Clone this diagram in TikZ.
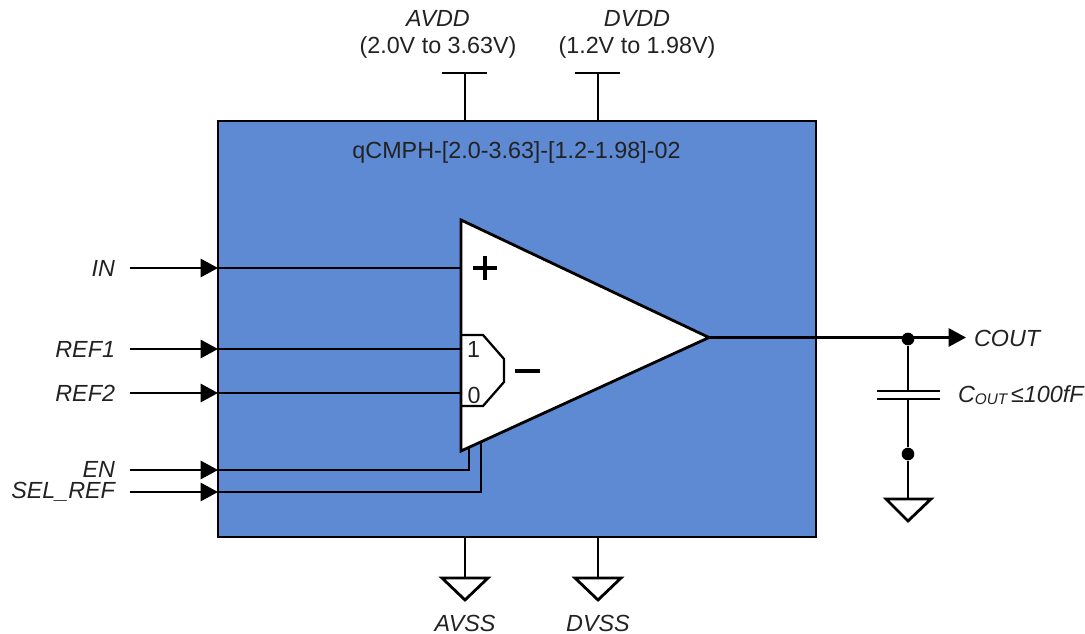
\documentclass[tikz,border=0pt]{standalone}
\usepackage{fontspec}
\setmainfont{Liberation Sans}
\usetikzlibrary{arrows.meta}
\definecolor{chipblue}{HTML}{5E8AD4}
\definecolor{inkc}{HTML}{222222}
\tikzset{
  x=0.75pt,y=-0.75pt,
  wire/.style={draw=black,line width=2.1pt,line join=miter},
  arrowwire/.style={wire,-{Triangle[length=13pt,width=13.5pt]}},
  lab/.style={inner sep=0pt,outer sep=0pt,text=inkc,font=\fontsize{17.5}{21}\selectfont},
  ilab/.style={lab,font=\fontsize{17.5}{21}\selectfont\itshape},
  pt/.style={coordinate},
  dotc/.style={circle,fill=black,inner sep=0pt,minimum size=9.5pt},
}
\begin{document}
\begin{tikzpicture}
\useasboundingbox (0,0) rectangle (1085,634);
% chip
\coordinate (boxnw) at (218,121);
\coordinate (boxse) at (816,537);
\draw[wire,fill=chipblue] (boxnw) rectangle (boxse);
\node[lab] (title) at (516.5,152) {qCMPH-[2.0-3.63]-[1.2-1.98]-02};
% amplifier
\coordinate (ampa) at (461,220);
\coordinate (ampb) at (461,451);
\coordinate (ampo) at (709,337.5);
\draw[wire,fill=white,line join=miter] (ampa) -- (ampo) -- (ampb) -- cycle;
% mux
\coordinate (m1) at (461,335);
\coordinate (m2) at (483,335);
\coordinate (m3) at (504,359);
\coordinate (m4) at (504,382);
\coordinate (m5) at (483,406);
\coordinate (m6) at (461,406);
\draw[wire,line width=1.7pt] (m1) -- (m2) -- (m3) -- (m4) -- (m5) -- (m6);
\node[lab] (one) at (473.5,349) {1};
\node[lab] (zero) at (474,395) {0};
\coordinate (pa) at (473,268); \coordinate (pb) at (497,268);
\coordinate (pc) at (485,256); \coordinate (pd) at (485,280);
\draw[wire,line width=2.5pt] (pa) -- (pb) (pc) -- (pd);
\coordinate (mia) at (515,371); \coordinate (mib) at (540,371);
\draw[wire,line width=2.5pt] (mia) -- (mib);
% inputs
\node[ilab,anchor=east] (in) at (115,268) {IN};
\node[ilab,anchor=east] (ref1) at (115,349) {REF1};
\node[ilab,anchor=east] (ref2) at (115,393) {REF2};
\node[ilab,anchor=base east,text depth=0pt] (en) at (115,477.5) {EN};
\node[ilab,anchor=base east,text depth=0pt] (sel) at (115,498) {SEL\_REF};
\foreach \n/\y/\t in {a/268/461,b/349/461,c/393/461}{
  \coordinate (s\n) at (130,\y);
  \coordinate (e\n) at (218,\y);
  \coordinate (t\n) at (\t,\y);
  \draw[arrowwire] (s\n) -- (e\n);
  \draw[wire] (e\n) -- (t\n);
}
\coordinate (sen) at (130,470); \coordinate (een) at (218,470);
\coordinate (cen) at (469,470); \coordinate (ten) at (469,448);
\draw[arrowwire] (sen) -- (een);
\draw[wire] (een) -- (cen) -- (ten);
\coordinate (ssl) at (130,492); \coordinate (esl) at (218,492);
\coordinate (csl) at (481,492); \coordinate (tsl) at (481,443);
\draw[arrowwire] (ssl) -- (esl);
\draw[wire] (esl) -- (csl) -- (tsl);
% supplies
\foreach \n/\x in {av/465,dv/598}{
  \coordinate (top\n) at (\x,121);
  \coordinate (stem\n) at (\x,73);
  \coordinate (bl\n) at (\x-23,73);
  \coordinate (br\n) at (\x+22,73);
  \draw[wire] (top\n) -- (stem\n) (bl\n) -- (br\n);
  \coordinate (bot\n) at (\x,537);
  \coordinate (gt\n) at (\x,578);
  \coordinate (gl\n) at (\x-23,578);
  \coordinate (gr\n) at (\x+23,578);
  \coordinate (gb\n) at (\x,600);
  \draw[wire] (bot\n) -- (gt\n);
  \draw[wire] (gl\n) -- (gr\n) -- (gb\n) -- cycle;
}
\node[ilab] (avdd) at (438,18) {AVDD};
\node[lab] (avr) at (438,47) {(2.0V to 3.63V)};
\node[ilab] (dvdd) at (637,18) {DVDD};
\node[lab] (dvr) at (637,47) {(1.2V to 1.98V)};
\node[ilab] (avss) at (465,623) {AVSS};
\node[ilab] (dvss) at (598,623) {DVSS};
% output
\node[ilab,anchor=west] (cout) at (974,338) {COUT};
\coordinate (oarr) at (966,337.5);
\draw[arrowwire] (ampo) -- (oarr);
\node[dotc] (j1) at (908,339) {};
\node[dotc] (j2) at (908,454) {};
\coordinate (c1) at (908,391);
\coordinate (c2) at (908,399);
\coordinate (c1l) at (877,391); \coordinate (c1r) at (940,391);
\coordinate (c2l) at (877,399); \coordinate (c2r) at (940,399);
\coordinate (gt) at (908,499);
\coordinate (gl) at (886,499); \coordinate (gr) at (931,499); \coordinate (gb) at (908,521);
\draw[wire] (j1) -- (c1) (c2) -- (j2) -- (gt);
\draw[wire] (c1l) -- (c1r) (c2l) -- (c2r);
\draw[wire] (gl) -- (gr) -- (gb) -- cycle;
\node[ilab,anchor=west] (capl) at (958,395) {C{\fontsize{11.5}{13}\selectfont\raisebox{-2pt}{OUT}}\,≤100fF};
\end{tikzpicture}
\end{document}
